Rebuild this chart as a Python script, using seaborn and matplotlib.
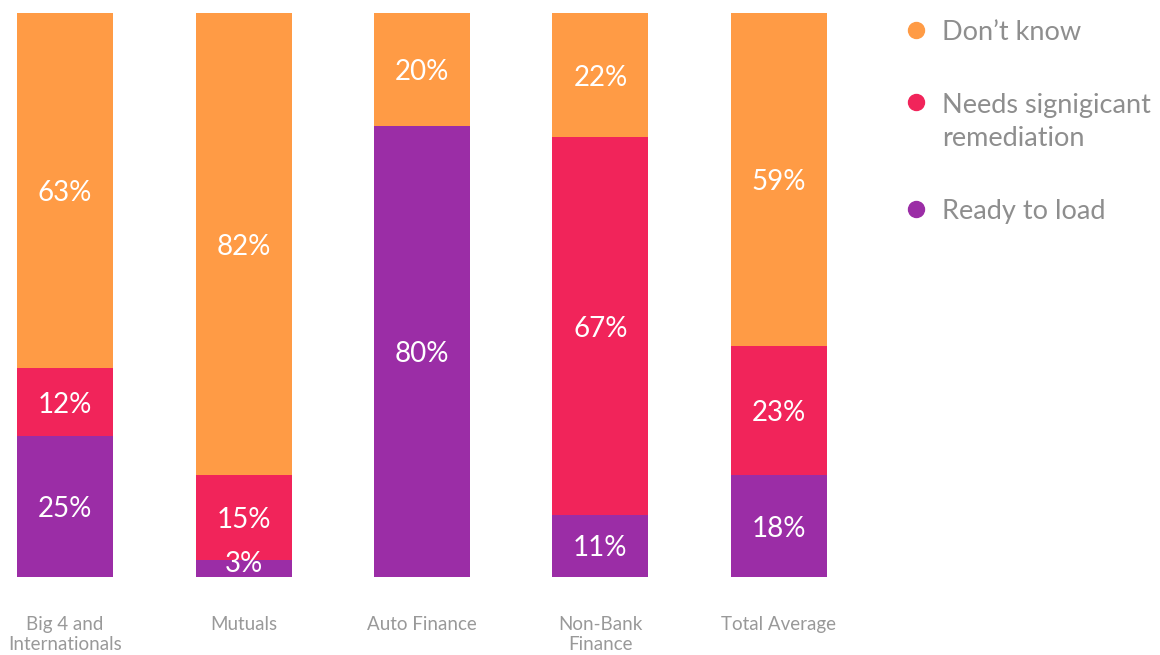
import matplotlib
matplotlib.use("Agg")
import matplotlib.pyplot as plt
from matplotlib.lines import Line2D
import seaborn as sns
import numpy as np

sns.set_theme(style="white")
plt.rcParams["font.family"] = ["Lato", "DejaVu Sans"]

categories = ["Big 4 and\nInternationals", "Mutuals", "Auto Finance", "Non-Bank\nFinance", "Total Average"]
ready_to_load = [25, 3, 80, 11, 18]
needs_remediation = [12, 15, 0, 67, 23]
dont_know = [63, 82, 20, 22, 59]

series_names = ["Ready to load", "Needs signigicant\nremediation", "Don\u2019t know"]
series_values = [ready_to_load, needs_remediation, dont_know]
series_colors = ["#9B2DA6", "#F1245A", "#FF9B45"]

W, H = 1160, 655
fig = plt.figure(figsize=(W / 100, H / 100), dpi=100)
ax = fig.add_axes([17 / W, 78 / H, 810 / W, 564 / H])

bottom = np.zeros(len(categories))
for name, vals, col in zip(series_names, series_values, series_colors):
    vals = np.asarray(vals, dtype=float)
    sns.barplot(x=categories, y=vals, bottom=bottom, color=col, width=0.538,
                ax=ax, saturation=1, linewidth=0)
    for i, v in enumerate(vals):
        if v > 0:
            # thin segments: lift the label so it stays inside the bar
            va = "center_baseline" if v >= 5 else "bottom"
            y = bottom[i] + v / 2 if v >= 5 else bottom[i]
            ax.text(i, y, f"{int(v)}%", ha="center", va=va,
                    color="white", fontsize=20)
    bottom += vals

ax.set_xlim(-0.27, 4.27)
ax.set_ylim(0, 100)
ax.set_yticks([])
ax.set_ylabel("")
for s in ax.spines.values():
    s.set_visible(False)
ax.tick_params(axis="x", length=0, pad=28, labelsize=13.5, labelcolor="#999999")
for t in ax.get_xticklabels():
    t.set_linespacing(1.2)
    t.set_verticalalignment("top")

# legend entries, drawn in figure pixel space
legend_items = [("Don\u2019t know", "#FF9B45", 30, 32.5),
                ("Needs signigicant\nremediation", "#F1245A", 102, 122),
                ("Ready to load", "#9B2DA6", 209, 211.5)]
for label, col, ydot, ytxt in legend_items:
    fig.add_artist(Line2D([916 / W], [1 - ydot / H], marker="o", markersize=11.5,
                          color=col, linestyle="none", transform=fig.transFigure))
    fig.text(942 / W, 1 - ytxt / H, label, ha="left", va="center", fontsize=19.5,
             color="#8E8E8E", linespacing=1.45)

fig.savefig("out.png", dpi=100)
